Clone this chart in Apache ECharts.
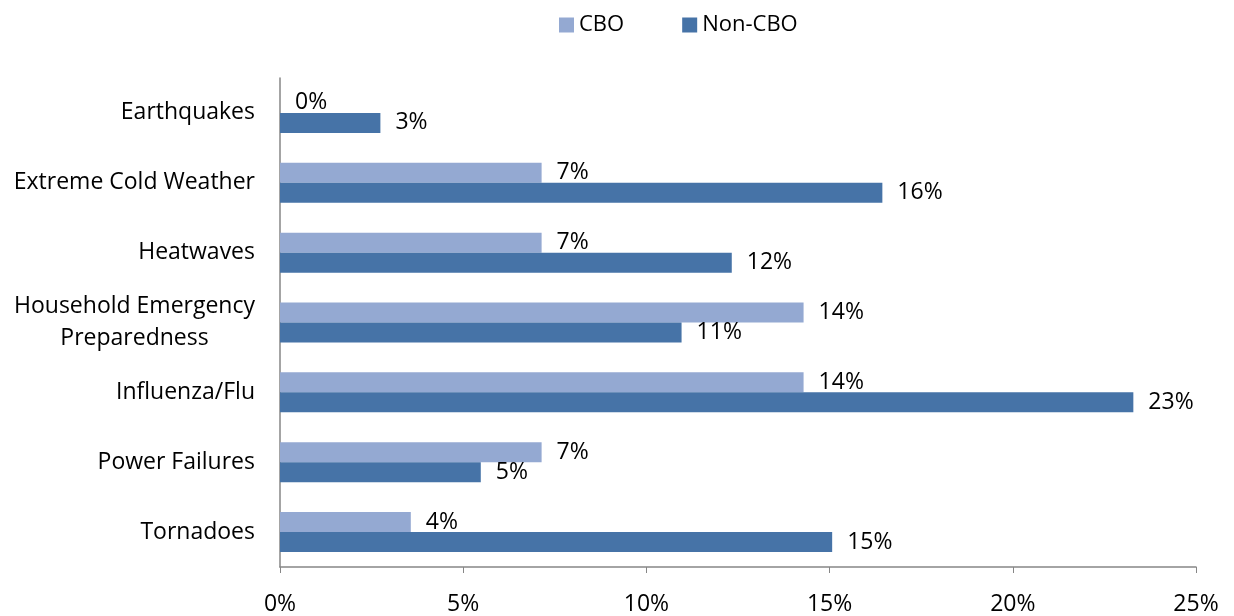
<!DOCTYPE html>
<html>
<head>
<meta charset="utf-8">
<script src="https://cdn.jsdelivr.net/npm/echarts@6/dist/echarts.min.js"></script>
<style>html,body{margin:0;padding:0;background:#fff}#c{width:1234px;height:616px}</style>
</head>
<body>
<div id="c"></div>
<script>
var categories = ['Earthquakes', 'Extreme Cold Weather', 'Heatwaves', 'Household Emergency\nPreparedness', 'Influenza/Flu', 'Power Failures', 'Tornadoes'];
var cboValues = [0, 7.14, 7.14, 14.29, 14.29, 7.14, 3.57];
var nonCboValues = [2.74, 16.44, 12.33, 10.96, 23.29, 5.48, 15.07];
var xTicks = [0, 5, 10, 15, 20, 25];

var FONT = '"Open Sans", sans-serif';
var chart = echarts.init(document.getElementById('c'));
var labelOpt = {
  show: true, position: 'right', distance: 15,
  fontFamily: FONT, fontSize: 23, color: '#000',
  formatter: function (p) { return Math.round(p.value) + '%'; }
};
chart.setOption({
  animation: false,
  legend: {
    left: 554, top: 9, itemWidth: 15, itemHeight: 15, itemGap: 58,
    icon: 'rect',
    textStyle: { fontFamily: FONT, fontSize: 22, color: '#000' },
    data: ['CBO', 'Non-CBO']
  },
  grid: { left: 280, right: 38, top: 78, bottom: 48, containLabel: false },
  xAxis: {
    type: 'value', min: xTicks[0], max: xTicks[xTicks.length - 1], interval: 5,
    splitLine: { show: false },
    axisLine: { show: true, lineStyle: { color: '#868686', width: 1.5 } },
    axisTick: { show: true, length: 6, lineStyle: { color: '#868686' } },
    axisLabel: { margin: 26, fontFamily: FONT, fontSize: 23, color: '#000', formatter: '{value}%' }
  },
  yAxis: {
    type: 'category', data: categories, inverse: true,
    axisLine: { show: true, lineStyle: { color: '#868686', width: 1.5 } },
    axisTick: { show: false },
    axisLabel: {
      margin: 25, color: '#000',
      formatter: function (v) {
        return v.split('\n').map(function (s) { return '{c|' + s + '}'; }).join('\n');
      },
      rich: { c: { fontFamily: FONT, fontSize: 23, color: '#000', align: 'center', lineHeight: 32 } }
    }
  },
  series: [
    { name: 'CBO', type: 'bar', data: cboValues, barWidth: 20, barGap: '0%',
      itemStyle: { color: '#94A9D2' }, label: labelOpt },
    { name: 'Non-CBO', type: 'bar', data: nonCboValues, barWidth: 20, barGap: '0%',
      itemStyle: { color: '#4673A7' }, label: labelOpt }
  ]
});
</script>
</body>
</html>
